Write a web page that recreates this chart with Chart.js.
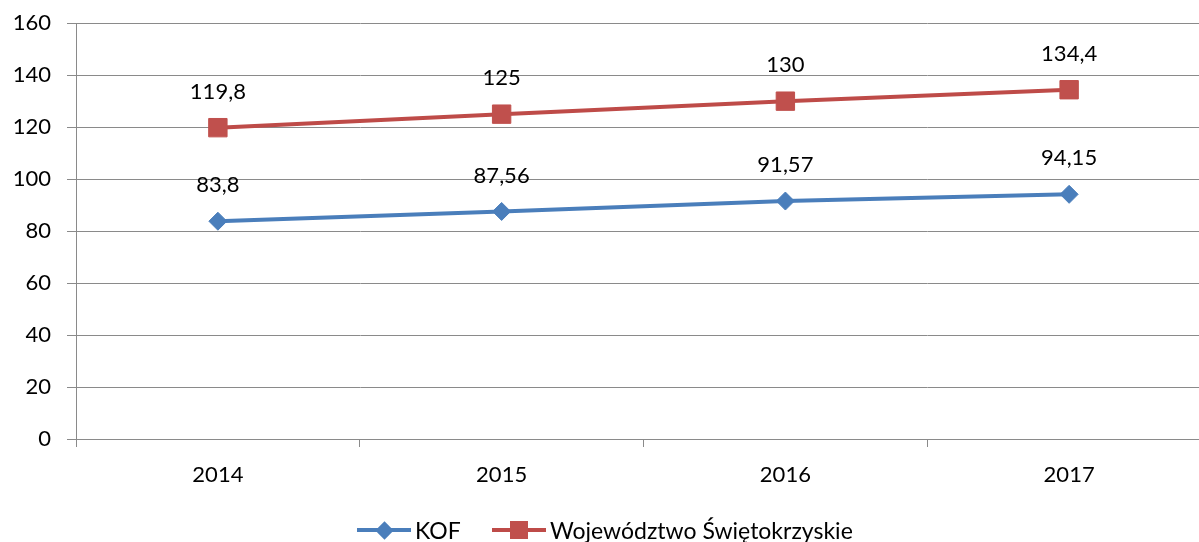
<!DOCTYPE html>
<html><head><meta charset="utf-8">
<script src="https://cdn.jsdelivr.net/npm/chart.js@4"></script>
<style>
html,body{margin:0;padding:0;overflow:hidden;background:#fff;}
#wrap{position:relative;width:1199px;height:542px;overflow:hidden;background:#fff;}
#c{position:absolute;left:0;top:-6px;}
.lg{position:absolute;top:516px;height:28px;display:flex;align-items:center;font:23px Lato, "Open Sans", sans-serif;color:#000;white-space:nowrap;}
.ln{position:relative;width:54px;height:4px;margin-right:4px;}
.mk{position:absolute;left:50%;top:50%;}
</style></head>
<body>
<div id="wrap">
<canvas id="c" width="1225" height="548"></canvas>
<div class="lg" style="left:357px;"><div class="ln" style="background:#4A7EBB;"><div class="mk" style="width:13px;height:13px;margin:-6.5px 0 0 -6.5px;background:#4A7EBB;transform:rotate(45deg);"></div></div>KOF</div>
<div class="lg" style="left:492px;"><div class="ln" style="background:#BE4B48;"><div class="mk" style="width:18px;height:18px;margin:-9px 0 0 -9px;background:#C0504D;"></div></div>Województwo Świętokrzyskie</div>
</div>
<script>
const categories = ['2014', '2015', '2016', '2017'];
const kofValues = [83.8, 87.56, 91.57, 94.15];
const wojValues = [119.8, 125, 130, 134.4];
const seriesNames = ['KOF', 'Województwo Świętokrzyskie'];
const yTicks = [0, 20, 40, 60, 80, 100, 120, 140, 160];

const FONT = 'Lato, "Open Sans", sans-serif';
const GRID = '#8a8a8a';

const dataLabels = {
  id: 'dataLabels',
  afterDatasetsDraw(chart) {
    const ctx = chart.ctx;
    ctx.save();
    ctx.font = '22px ' + FONT;
    ctx.fillStyle = '#000';
    ctx.textAlign = 'center';
    ctx.textBaseline = 'middle';
    chart.data.datasets.forEach((ds, di) => {
      const meta = chart.getDatasetMeta(di);
      meta.data.forEach((pt, i) => {
        const txt = String(ds.data[i]).replace('.', ',');
        ctx.fillText(txt, pt.x, pt.y - 36);
      });
    });
    ctx.restore();
  }
};

new Chart(document.getElementById('c'), {
  type: 'line',
  data: {
    labels: categories,
    datasets: [
      {
        label: seriesNames[0],
        data: kofValues,
        borderColor: '#4A7EBB',
        backgroundColor: '#4A7EBB',
        borderWidth: 4,
        pointStyle: 'rectRot',
        pointRadius: 9,
        pointBackgroundColor: '#4A7EBB',
        pointBorderColor: '#4A7EBB',
        pointBorderWidth: 1,
        tension: 0
      },
      {
        label: seriesNames[1],
        data: wojValues,
        borderColor: '#BE4B48',
        backgroundColor: '#C0504D',
        borderWidth: 4,
        pointStyle: 'rect',
        pointRadius: 13,
        pointBackgroundColor: '#C0504D',
        pointBorderColor: '#C0504D',
        pointBorderWidth: 1,
        tension: 0
      }
    ]
  },
  options: {
    responsive: false,
    animation: false,
    layout: { padding: { top: 18, left: 0, right: 0, bottom: 0 } },
    plugins: {
      legend: { display: false },
      tooltip: { enabled: false }
    },
    scales: {
      x: {
        offset: true,
        grid: { offset: true, drawOnChartArea: false, drawTicks: true, tickLength: 8, color: GRID, lineWidth: 1 },
        border: { display: true, color: GRID, width: 1 },
        ticks: { color: '#000', font: { family: FONT, size: 22 }, padding: 15, maxRotation: 0 },
        afterFit(scale) { scale.height = 103; }
      },
      y: {
        min: 0,
        max: 160,
        afterBuildTicks(scale) { scale.ticks = yTicks.map(v => ({ value: v })); },
        grid: { color: GRID, lineWidth: 1, drawTicks: true, tickLength: 9 },
        border: { display: true, color: GRID, width: 1 },
        ticks: { color: '#000', font: { family: FONT, size: 22 }, padding: 16 },
        afterFit(scale) { scale.width = 76; }
      }
    }
  },
  plugins: [dataLabels]
});
</script>
</body></html>
